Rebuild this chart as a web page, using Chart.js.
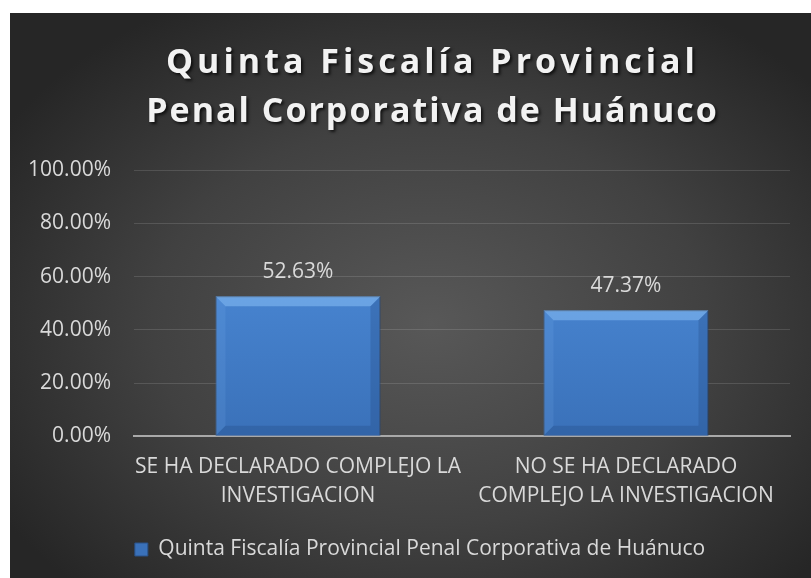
<!DOCTYPE html>
<html>
<head>
<meta charset="utf-8">
<script src="https://cdn.jsdelivr.net/npm/chart.js@4"></script>
<style>
  html, body { margin: 0; padding: 0; background: #ffffff; overflow: hidden; }
  #wrap {
    position: absolute; left: 10px; top: 13px; width: 841px; height: 565px;
    background: radial-gradient(ellipse 60% 65% at 50% 55%, #585858 0%, #414141 55%, #262626 100%);
  }
</style>
</head>
<body>
<div id="wrap"><canvas id="chart"></canvas></div>
<script>
// chart data
const titleLines = ['Quinta Fiscalía Provincial', 'Penal Corporativa de Huánuco'];
const seriesName = 'Quinta Fiscalía Provincial Penal Corporativa de Huánuco';
const categories = [
    ['SE HA DECLARADO COMPLEJO LA', 'INVESTIGACION'],
    ['NO SE HA DECLARADO', 'COMPLEJO LA INVESTIGACION']
];
const values = [52.63, 47.37];
const yMin = 0;
const yMax = 100;
const yStep = 20;

const textColor = '#d9d9d9';
const fontFamily = "'Open Sans', 'Liberation Sans', sans-serif";

function barGradient(context) {
    const chart = context.chart;
    const area = chart.chartArea;
    if (!area) return '#4682d0';
    const g = chart.ctx.createLinearGradient(0, area.top, 0, area.bottom);
    g.addColorStop(0, '#5293e2');
    g.addColorStop(1, '#3a71b9');
    return g;
}

// title with spacing and shadow
const titlePlugin = {
    id: 'bigTitle',
    afterDraw(chart) {
        const ctx = chart.ctx;
        const spacing = ['4px', '2px'];
        ctx.save();
        ctx.font = "bold 34px 'Open Sans', sans-serif";
        ctx.fillStyle = '#f2f2f2';
        ctx.textAlign = 'center';
        ctx.textBaseline = 'alphabetic';
        ctx.shadowColor = 'rgba(0,0,0,0.7)';
        ctx.shadowOffsetX = 2;
        ctx.shadowOffsetY = 2;
        ctx.shadowBlur = 3;
        titleLines.forEach((line, i) => {
            ctx.letterSpacing = spacing[i];
            ctx.fillText(line, chart.width / 2 + 2, 60 + i * 49);
        });
        ctx.restore();
    }
};

// legend sits a bit right of the plot centre, like the original
const legendShift = {
    id: 'legendShift',
    afterLayout(chart) {
        if (chart.legend) {
            chart.legend.left += 20;
            chart.legend.right += 20;
        }
    }
};

// bevel on bars + value labels
const barExtras = {
    id: 'barExtras',
    afterDatasetsDraw(chart) {
        const ctx = chart.ctx;
        const meta = chart.getDatasetMeta(0);
        meta.data.forEach((bar, i) => {
            const left = bar.x - bar.width / 2;
            const right = bar.x + bar.width / 2;
            const top = bar.y;
            const bottom = bar.base;
            const b = 10;
            ctx.save();
            // top bevel
            ctx.fillStyle = 'rgba(150,205,255,0.45)';
            ctx.beginPath();
            ctx.moveTo(left, top); ctx.lineTo(right, top);
            ctx.lineTo(right - b, top + b); ctx.lineTo(left + b, top + b);
            ctx.closePath(); ctx.fill();
            // left bevel
            ctx.fillStyle = 'rgba(130,180,240,0.15)';
            ctx.beginPath();
            ctx.moveTo(left, top); ctx.lineTo(left + b, top + b);
            ctx.lineTo(left + b, bottom - b); ctx.lineTo(left, bottom);
            ctx.closePath(); ctx.fill();
            // right bevel
            ctx.fillStyle = 'rgba(20,50,100,0.2)';
            ctx.beginPath();
            ctx.moveTo(right, top); ctx.lineTo(right - b, top + b);
            ctx.lineTo(right - b, bottom - b); ctx.lineTo(right, bottom);
            ctx.closePath(); ctx.fill();
            // bottom bevel
            ctx.fillStyle = 'rgba(20,50,100,0.2)';
            ctx.beginPath();
            ctx.moveTo(left, bottom); ctx.lineTo(right, bottom);
            ctx.lineTo(right - b, bottom - b); ctx.lineTo(left + b, bottom - b);
            ctx.closePath(); ctx.fill();
            ctx.restore();

            // value label
            ctx.save();
            ctx.font = "21px 'Open Sans', sans-serif";
            ctx.fillStyle = textColor;
            ctx.textAlign = 'center';
            ctx.textBaseline = 'alphabetic';
            ctx.fillText(values[i].toFixed(2) + '%', bar.x, top - 18);
            ctx.restore();
        });
    }
};

const ctx = document.getElementById('chart').getContext('2d');
new Chart(ctx, {
    type: 'bar',
    data: {
        labels: categories,
        datasets: [{
            label: seriesName,
            data: values,
            backgroundColor: barGradient,
            borderColor: '#2a5288',
            borderWidth: 1,
            categoryPercentage: 1.0,
            barPercentage: 0.503
        }]
    },
    options: {
        responsive: true,
        maintainAspectRatio: false,
        animation: false,
        layout: { padding: { left: 0, right: 61, top: 157, bottom: 8 } },
        scales: {
            x: {
                afterFit(scale) { scale.height += 10; },
                grid: { display: false },
                border: { display: true, color: '#a9a9a9', width: 2 },
                ticks: {
                    color: textColor,
                    font: { family: fontFamily, size: 21, lineHeight: 1.35 },
                    padding: 9,
                    maxRotation: 0,
                    autoSkip: false
                }
            },
            y: {
                min: yMin,
                max: yMax,
                afterFit(scale) { scale.width = 124; },
                grid: { color: 'rgba(255,255,255,0.13)', lineWidth: 1, drawTicks: false },
                border: { display: false },
                ticks: {
                    stepSize: yStep,
                    color: textColor,
                    padding: 23,
                    font: { family: fontFamily, size: 21 },
                    callback: v => v.toFixed(2) + '%'
                }
            }
        },
        plugins: {
            title: { display: false },
            tooltip: { enabled: false },
            legend: {
                position: 'bottom',
                labels: {
                    color: textColor,
                    font: { family: fontFamily, size: 21 },
                    boxWidth: 13,
                    boxHeight: 13,
                    padding: 10
                }
            }
        }
    },
    plugins: [titlePlugin, legendShift, barExtras]
});
</script>
</body>
</html>
